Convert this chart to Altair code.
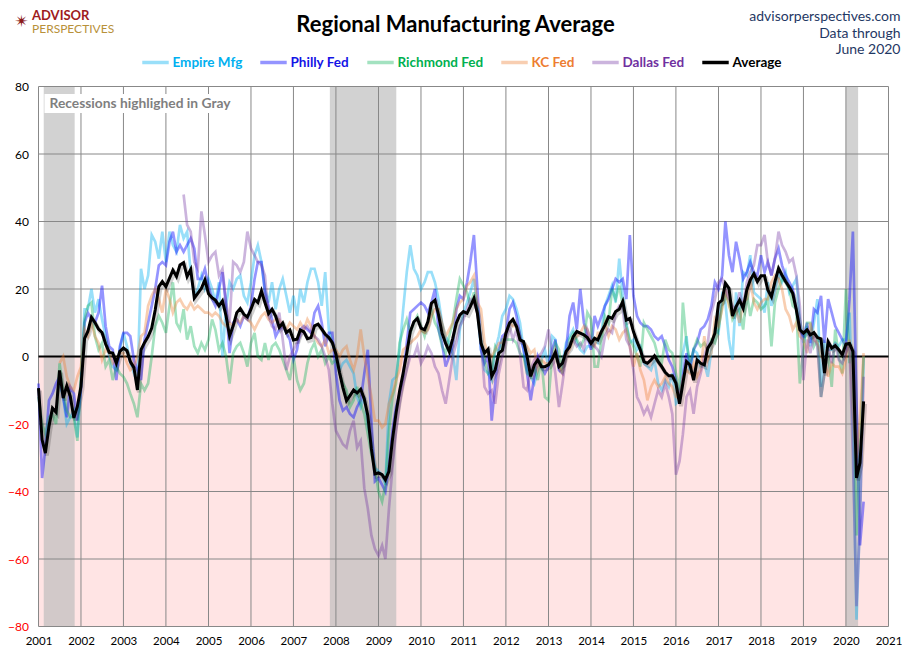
import altair as alt
import pandas as pd

SERIES = ["Empire Mfg", "Philly Fed", "Richmond Fed", "KC Fed", "Dallas Fed", "Average"]
LINE_COLORS = ["rgba(0,176,240,0.40)", "rgba(0,0,255,0.42)", "rgba(0,176,80,0.36)",
               "rgba(237,125,49,0.38)", "rgba(112,48,160,0.36)", "#000000"]
LABEL_COLORS = ["#00B0F0", "#1414E6", "#00B050", "#ED7D31", "#7030A0", "#000000"]

# (start month of first year, {year: monthly values})
AVG = (1, {
    2001: [-9.4, -24.7, -28.6, -20.7, -15.3, -16.5, -4.1, -12.3, -8.7, -11.8, -18.2, -14.8],
    2002: [-8.9, 5.4, 7.4, 11.6, 10.1, 8.1, 7.1, 3.7, 1.2, 1.0, -2.0, 1.5],
    2003: [2.5, 1.7, -1.5, -3.3, -9.9, 2.0, 4.1, 5.9, 8.4, 13.8, 20.7, 22.2],
    2004: [20.7, 23.2, 25.6, 23.7, 27.1, 27.8, 23.7, 25.8, 17.3, 18.7, 20.2, 22.7],
    2005: [18.6, 17.4, 16.7, 15.0, 16.5, 12.0, 6.1, 9.1, 13.0, 14.2, 12.5, 11.7],
    2006: [14.0, 16.9, 16.0, 19.4, 16.0, 12.7, 14.0, 12.0, 8.6, 9.9, 7.1, 7.9],
    2007: [4.9, 5.1, 7.9, 7.3, 5.3, 5.6, 9.1, 9.6, 8.1, 6.6, 5.6, 4.1],
    2008: [0.7, -4.7, -9.2, -13.1, -11.6, -9.9, -10.8, -9.7, -12.6, -17.5, -27.4, -34.8],
    2009: [-34.5, -35.0, -36.5, -34.0, -24.6, -16.7, -10.3, -4.9, 1.0, 7.4, 10.3, 11.3],
    2010: [8.4, 7.9, 10.3, 15.8, 16.7, 12.3, 6.9, 3.9, 1.5, 5.4, 9.9, 12.3],
    2011: [13.3, 12.8, 14.8, 17.2, 12.8, 3.9, 1.0, 2.2, -5.9, -3.9, 1.0, 1.8],
    2012: [6.9, 9.9, 11.0, 8.9, 4.9, 4.4, 0.0, -5.9, -2.5, -1.0, -3.0, -3.0],
    2013: [-2.5, -0.8, 1.2, -3.0, -2.0, 1.5, 2.8, 5.9, 7.4, 6.9, 6.4, 5.6],
    2014: [3.9, 5.4, 4.9, 7.4, 9.3, 11.8, 11.3, 13.3, 14.0, 16.3, 10.8, 11.3],
    2015: [7.4, 4.4, 2.0, -1.5, -2.0, -1.0, 0.2, -1.5, -3.0, -4.7, -5.7, -5.7],
    2016: [-7.9, -14.0, -7.9, -1.5, -2.5, -7.0, -1.0, -2.0, -2.5, 2.5, 4.1, 6.9],
    2017: [15.8, 16.7, 21.7, 20.2, 12.0, 14.8, 16.7, 14.3, 19.7, 22.7, 24.5, 22.2],
    2018: [23.9, 23.9, 19.7, 17.7, 22.2, 26.1, 24.1, 22.2, 20.6, 18.7, 13.8, 7.9],
    2019: [6.9, 7.9, 6.4, 7.1, 5.6, 5.2, -4.9, 4.4, 2.5, 3.2, 2.0, 0.5],
    2020: [3.7, 3.9, 1.5, -36.0, -31.5, -13.3],
})

EMPIRE = (7, {
    2001: [-8, -12, -20, -18, -16, -24],
    2002: [-8, 14, 14, 20, 13, 17, 11, 6, 0, -3, -4, 2],
    2003: [7, 3, -2, -5, -8, 26, 20, 24, 36, 34, 29, 37],
    2004: [28, 37, 33, 31, 39, 35, 37, 25, 18, 20, 24, 20],
    2005: [23, 20, 16, 22, 0, 15, 22, 20, 23, 24, 18, 16],
    2006: [22, 30, 33, 28, 20, 16, 22, 14, 20, 23, 18, 13],
    2007: [18, 12, 20, 16, 22, 26, 26, 22, 15, 25, 8, 4],
    2008: [1, -4, -2, -1, -3, -5, -12, -15, -12, -20, -26, -33],
    2009: [-34, -35, -38, -14, -7, -6, 2, 14, 25, 33, 26, 24],
    2010: [20, 22, 25, 25, 22, 17, 10, 6, 4, 1, -7, 8],
    2011: [13, 16, 19, 23, 14, 2, -4, -5, -7, 2, 6, 12],
    2012: [14, 18, 17, 14, 10, 2, -4, -6, -8, -4, -1, 2],
    2013: [-3, 6, 5, -3, -2, 4, 6, 8, 4, 2, 1, 3],
    2014: [3, 5, 4, 7, 15, 18, 21, 16, 29, 18, 10, 4],
    2015: [5, 2, 3, -2, -3, -4, -1, -8, -10, -7, -9, -5],
    2016: [-14, -13, 1, 6, -5, 2, 1, -3, -2, -6, 2, 8],
    2017: [7, 18, 16, 5, -1, 19, 9, 25, 24, 30, 19, 18],
    2018: [17, 13, 22, 15, 20, 25, 22, 25, 19, 21, 23, 11],
    2019: [4, 9, 3, 10, 17, -9, 4, 2, 2, 4, 3, 5],
    2020: [5, 13, -21, -78, -48, 0],
})

PHILLY = (1, {
    2001: [-8, -36, -27, -13, -11, -8, -6, -12, -18, -9, -11, -19],
    2002: [-10, 10, 13, 11, 10, 13, 21, 9, 3, 2, -7, 3],
    2003: [7, 7, 6, -1, -4, -7, 5, 10, 15, 20, 27, 28],
    2004: [27, 34, 37, 31, 33, 31, 33, 35, 32, 23, 23, 26],
    2005: [21, 17, 15, 20, 25, 15, 1, 10, 11, 9, 12, 11],
    2006: [15, 23, 28, 28, 19, 15, 11, 6, 8, 9, 7, 5],
    2007: [-1, 2, 8, 9, 8, 7, 13, 15, 10, 3, 7, 7],
    2008: [-5, -13, -16, -15, -17, -18, -15, -13, -5, 2, -19, -37],
    2009: [-36, -38, -40, -32, -22, -15, -11, -6, 4, 13, 14, 15],
    2010: [16, 15, 13, 16, 20, 8, 4, -3, 0, 3, 14, 18],
    2011: [17, 22, 28, 36, 20, 2, -2, 0, -19, -8, 2, 6],
    2012: [7, 14, 16, 12, 6, 2, -5, -13, -6, 0, -3, -5],
    2013: [-3, 2, 5, -4, -5, 2, 12, 16, 8, 20, 10, 6],
    2014: [2, 12, 9, 12, 15, 17, 20, 23, 22, 23, 17, 36],
    2015: [18, 12, 10, 9, 9, 8, 6, 5, 6, 3, -1, -3],
    2016: [-7, -13, -6, 1, -3, 2, 4, 8, 9, 11, 15, 22],
    2017: [20, 24, 40, 30, 25, 34, 29, 23, 25, 28, 25, 24],
    2018: [30, 25, 28, 24, 29, 32, 27, 24, 22, 20, 14, 8],
    2019: [6, 10, 4, 14, 13, 18, 4, 17, 13, 9, 7, 5],
    2020: [3, 17, 37, -13, -56, -43],
})

RICHMOND = (1, {
    2001: [-12, -20, -23, -18, -17, -20, -2, -10, -16, -18, -18, -25],
    2002: [-5, 11, 15, 16, 6, 2, 4, -3, -1, -7, -3, -5],
    2003: [-6, -8, -11, -14, -18, -8, -10, -8, 0, 9, 12, 10],
    2004: [7, 15, 22, 10, 8, 14, 5, 9, 3, 1, 4, 2],
    2005: [5, 11, 8, 2, 4, 0, -8, 1, 3, 4, 1, -3],
    2006: [4, 7, 0, -1, 4, -1, 3, 4, 2, -1, -4, -7],
    2007: [0, -7, -10, -8, -2, 2, 4, 0, 2, -2, 0, -2],
    2008: [-1, -5, -8, -10, -15, -13, -9, -14, -17, -23, -29, -33],
    2009: [-40, -43, -38, -22, -12, -8, 4, 8, 11, 7, 10, 12],
    2010: [9, 6, 10, 14, 10, 8, 3, 1, 6, 10, 17, 23],
    2011: [21, 19, 15, 19, 14, 5, -1, -5, -4, 3, 1, 5],
    2012: [5, 5, 5, 4, 1, 0, -5, -6, -3, -7, -1, -12],
    2013: [-13, 0, 4, 2, -5, 0, 5, 7, 5, 3, 5, 13],
    2014: [11, -3, -3, 5, 12, 10, 20, 17, 21, 15, 9, 5],
    2015: [3, 0, -3, 10, 8, 6, 4, 0, -2, 5, 2, 1],
    2016: [-5, -10, 16, 4, -2, 2, 5, 3, 4, 2, 5, 4],
    2017: [8, 15, 18, 16, 11, 13, 14, 8, 19, 12, 17, 16],
    2018: [14, 15, 17, 3, 16, 20, 23, 22, 20, 15, 14, -8],
    2019: [2, 10, 10, 3, 5, -12, -5, 1, -9, 8, 0, -5],
    2020: [20, -2, 2, -53, -27, 0],
})

KC = (7, {
    2001: [-2, 0, -6, -9, -10, -6],
    2002: [-3, 8, 6, 10, 6, 4, -1, 2, 1, -2, -1, 1],
    2003: [1, -2, -4, -3, 0, 6, 7, 15, 18, 20, 17, 13],
    2004: [20, 17, 13, 16, 17, 15, 14, 16, 14, 15, 14, 13],
    2005: [13, 12, 13, 12, 10, 9, 10, 9, 11, 10, 12, 11],
    2006: [10, 8, 10, 12, 13, 11, 10, 11, 11, 9, 8, 10],
    2007: [9, 8, 10, 8, 11, 9, 6, 4, 3, 5, 1, 2],
    2008: [2, 0, 2, 3, -1, -4, 0, 8, 0, -6, -12, -19],
    2009: [-19, -21, -20, -14, -11, -7, -4, 2, 3, 4, 5, 6],
    2010: [8, 7, 8, 12, 14, 14, 10, 6, 8, 10, 14, 16],
    2011: [17, 21, 22, 24, 16, 14, 4, 1, 0, 2, 4, 4],
    2012: [7, 10, 9, 9, 5, 4, 3, 1, 2, -4, -1, -2],
    2013: [-2, -1, 2, -3, -5, 0, 2, 5, 6, 7, 9, 8],
    2014: [4, 3, 7, 7, 10, 6, 9, 8, 5, 7, 8, 3],
    2015: [-3, 1, -4, -7, -13, -9, -7, -9, -8, -6, -8, -9],
    2016: [-12, -12, -6, -4, -5, -2, -6, -4, 6, -1, 1, 11],
    2017: [9, 14, 20, 15, 12, 14, 10, 16, 17, 23, 16, 14],
    2018: [16, 17, 17, 22, 24, 23, 20, 14, 12, 8, 10, 6],
    2019: [5, 1, 10, 5, 4, 0, -1, -6, -2, -3, -3, -5],
    2020: [-1, 5, -17, -30, -19, 1],
})

DALLAS = (6, {
    2004: [48, 39, 37, 28, 26, 43, 36],
    2005: [28, 30, 31, 24, 26, 16, 10, 28, 27, 25, 28, 37],
    2006: [32, 30, 28, 27, 24, 12, 9, 8, 13, 5, -4, 0],
    2007: [2, 4, 6, 8, 9, 7, 6, 5, 3, 0, -4, -14],
    2008: [-22, -24, -26, -27, -22, -19, -27, -25, -39, -45, -53, -57],
    2009: [-59, -56, -60, -45, -33, -22, -14, -8, -4, 0, 0, 3],
    2010: [-2, 0, 3, 1, -3, -5, -10, -14, -7, 0, 4, 9],
    2011: [11, 14, 17, 16, 13, 5, -9, -11, -10, -14, -5, 0],
    2012: [5, 9, 5, 8, 1, -9, -10, -4, -1, 0, 1, 3],
    2013: [8, 1, -5, -15, -8, 0, 4, 5, 3, 4, 2, 8],
    2014: [5, 3, 2, 0, 6, 8, 7, 13, 15, 14, 5, 3],
    2015: [-4, -12, -14, -17, -15, -18, -14, -10, -12, -8, -12, -17],
    2016: [-35, -31, -23, -12, -10, -17, -9, -5, 0, 4, 13, 17],
    2017: [22, 23, 20, 17, 15, 14, 19, 15, 22, 25, 27, 33],
    2018: [33, 36, 28, 24, 29, 37, 33, 31, 28, 29, 24, 15],
    2019: [-7, 5, 1, 6, 3, -12, -5, 3, -2, 4, -1, -2],
    2020: [1, 4, -30, -74, -49, -6],
})

RECESSIONS = [("2001-02-15", "2001-11-08"), ("2007-11-10", "2009-06-03"), ("2020-01-02", "2020-04-15")]
YEARS = list(range(2001, 2022))
Y_TICKS = list(range(-80, 81, 20))


def to_rows(name, spec):
    start, years = spec
    rows = []
    first = min(years)
    for yr in sorted(years):
        m0 = start if yr == first else 1
        for i, v in enumerate(years[yr]):
            rows.append({"date": f"{yr}-{m0 + i:02d}-01T00:00:00", "series": name, "value": v})
    return rows


faint_rows = []
for nm, sp in zip(SERIES[:5], [EMPIRE, PHILLY, RICHMOND, KC, DALLAS]):
    faint_rows += to_rows(nm, sp)
df_faint = pd.DataFrame(faint_rows)
df_avg = pd.DataFrame(to_rows("Average", AVG))

df_rec = pd.DataFrame({"start": [s + "T00:00:00" for s, e in RECESSIONS],
                       "end": [e + "T00:00:00" for s, e in RECESSIONS]})
df_years = pd.DataFrame({"date": [f"{y}-01-01T00:00:00" for y in YEARS]})
df_yt = pd.DataFrame({"v": Y_TICKS})
df_neg = pd.DataFrame({"start": ["2001-01-01T00:00:00"], "end": ["2021-01-01T00:00:00"], "y0": [0], "y1": [-80]})

FONT = "Lato"
W, H = 850, 540
xscale = alt.Scale(domain=[alt.DateTime(year=2001, month=1, date=1), alt.DateTime(year=2021, month=1, date=1)])
yscale = alt.Scale(domain=[-80, 80], nice=False)

X = alt.X("date:T", scale=xscale,
          axis=alt.Axis(values=[alt.DateTime(year=y, month=1, date=1) for y in YEARS], format="%Y",
                        grid=False, ticks=False, domain=False, labelPadding=9, labelFont=FONT,
                        labelFontSize=11.5, labelColor="#000000", title=None, labelOverlap=False,
                        labelFlush=False, labelAlign="center"))
Y = alt.Y("value:Q", scale=yscale,
          axis=alt.Axis(values=Y_TICKS, grid=False, ticks=False, domain=False, labelPadding=10,
                        labelFont=FONT, labelFontSize=12, title=None,
                        labelColor={"expr": "datum.value < 0 ? '#FF0000' : '#000000'"}))

color_scale = alt.Scale(domain=SERIES, range=LINE_COLORS)
label_expr = " : ".join([f"datum.label == '{s}' ? '{c}'" for s, c in zip(SERIES[:5], LABEL_COLORS[:5])]) + " : '#000000'"
legend = alt.Legend(orient="none", legendX=102, legendY=-39, direction="horizontal", title=None,
                    symbolType="stroke", symbolSize=700, symbolStrokeWidth=3.5, labelFont=FONT,
                    labelFontSize=13.5, labelFontWeight="bold", columnPadding=10, labelOffset=2,
                    labelColor={"expr": label_expr})

neg = alt.Chart(df_neg).mark_rect(color="#FFE4E4").encode(
    x=alt.X("start:T", scale=xscale), x2="end:T", y=alt.Y("y0:Q", scale=yscale), y2="y1:Q")
rec = alt.Chart(df_rec).mark_rect(color="#BDBDBD", opacity=0.68).encode(
    x=alt.X("start:T", scale=xscale), x2="end:T", y=alt.value(0), y2=alt.value(H))
vgrid = alt.Chart(df_years).mark_rule(color="#888888", strokeWidth=1).encode(x=alt.X("date:T", scale=xscale))
hgrid = alt.Chart(df_yt).mark_rule(color="#888888", strokeWidth=1).encode(y=alt.Y("v:Q", scale=yscale))
zero = alt.Chart(pd.DataFrame({"v": [0]})).mark_rule(color="#000000", strokeWidth=2).encode(
    y=alt.Y("v:Q", scale=yscale))

faint = alt.Chart(df_faint).mark_line(strokeWidth=2.7).encode(
    x=X, y=Y, color=alt.Color("series:N", scale=color_scale, legend=legend))
shadow = alt.Chart(df_avg).mark_line(strokeWidth=4, color="rgba(0,0,0,0.18)", xOffset=1.5, yOffset=2.5).encode(
    x=X, y=Y)
avg_line = alt.Chart(df_avg).mark_line(strokeWidth=3).encode(
    x=X, y=Y, color=alt.Color("series:N", scale=color_scale, legend=legend))

one = alt.Data(values=[{}])
box = alt.Chart(one).mark_rect(color="#FFFFFF").encode(
    x=alt.value(6), x2=alt.value(211), y=alt.value(7.5), y2=alt.value(26.5))
box_txt = alt.Chart(one).mark_text(text="Recessions highlighed in Gray", align="left", baseline="middle",
                                   font=FONT, fontSize=13.8, fontWeight="bold", color="#7F7F7F").encode(
    x=alt.value(11), y=alt.value(17))
title = alt.Chart(one).mark_text(text="Regional Manufacturing Average", align="center", baseline="middle",
                                 font=FONT, fontSize=22, fontWeight="bold", color="#000000").encode(
    x=alt.value(417), y=alt.value(-61.5))
rt1 = alt.Chart(one).mark_text(text="advisorperspectives.com", align="right", baseline="middle",
                               font=FONT, fontSize=14, color="#1F3864").encode(x=alt.value(862), y=alt.value(-69.5))
rt2 = alt.Chart(one).mark_text(text="Data through", align="right", baseline="middle",
                               font=FONT, fontSize=14, color="#1F3864").encode(x=alt.value(862), y=alt.value(-53))
rt3 = alt.Chart(one).mark_text(text="June 2020", align="right", baseline="middle",
                               font=FONT, fontSize=14, color="#1F3864").encode(x=alt.value(862), y=alt.value(-36.5))
logo1 = alt.Chart(one).mark_text(text="ADVISOR", align="left", baseline="middle", font=FONT, fontSize=13,
                                 fontWeight="bold", color="#9E1B20").encode(x=alt.value(-6.5), y=alt.value(-71))
logo2 = alt.Chart(one).mark_text(text="PERSPECTIVES", align="left", baseline="middle", font=FONT, fontSize=12,
                                 color="#B8913A").encode(x=alt.value(-6.5), y=alt.value(-57.5))
logo_icon = alt.Chart(one).mark_text(text="✴", align="center", baseline="middle", font="DejaVu Sans",
                                     fontSize=17, color="#8B1A1A").encode(x=alt.value(-17), y=alt.value(-65))

chart = alt.layer(neg, rec, vgrid, hgrid, zero, faint, shadow, avg_line, box, box_txt,
                  title, rt1, rt2, rt3, logo1, logo2, logo_icon).properties(
    width=W, height=H,
    autosize=alt.AutoSizeParams(type="none"),
    padding={"left": 30.5, "top": 78.5, "right": 13.5, "bottom": 25},
    background="#FFFFFF",
).configure_view(stroke=None)

chart.save("out.html", embed_options={"renderer": "svg", "actions": False})
